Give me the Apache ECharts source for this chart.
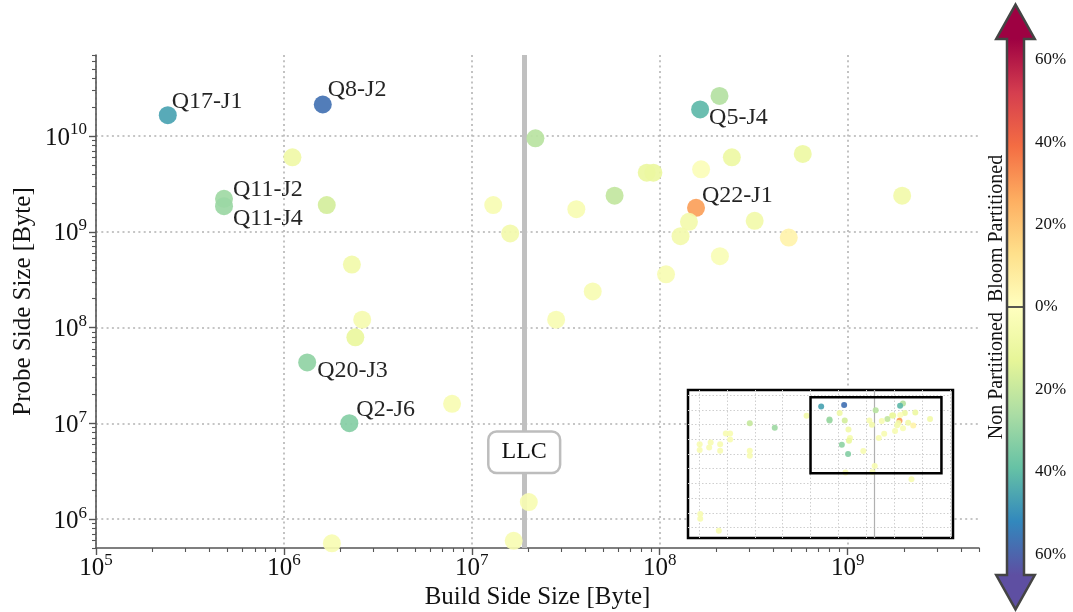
<!DOCTYPE html>
<html><head><meta charset="utf-8">
<script src="https://cdn.jsdelivr.net/npm/echarts@6/dist/echarts.min.js"></script>
<style>html,body{margin:0;padding:0;background:#fff}#chart{width:1073px;height:612px}</style>
</head><body><div id="chart"></div>
<script>
// ---------------- DATA ----------------
const buildSize = [
  2.41e5, 1.61e6, 1.11e6, 4.80e5, 4.80e5, 1.69e6, 1.30e7, 1.60e7, 2.30e6, 2.61e6,
  2.40e6, 1.33e6, 2.23e6, 7.85e6, 1.80e6, 1.67e7, 2.08e8, 1.64e8, 2.18e7, 2.42e8,
  5.77e8, 1.66e8, 8.53e7, 9.25e7, 5.75e7, 3.60e7, 1.56e8, 1.43e8, 3.20e8, 1.95e9,
  1.29e8, 4.86e8, 2.09e8, 1.08e8, 4.40e7, 2.81e7, 2.01e7,
  10.5, 10.5, 23, 26, 57, 57, 91, 130, 130, 660, 660, 660, 5.2e3, 7.2e4, 11, 11, 51, 4.2e8
];
const probeSize = [
  1.65e10, 2.13e10, 5.98e9, 2.21e9, 1.85e9, 1.90e9, 1.90e9, 9.6e8, 4.55e8, 1.21e8,
  7.9e7, 4.32e7, 1.005e7, 1.60e7, 5.6e5, 5.94e5, 2.62e10, 1.89e10, 9.46e9, 5.98e9,
  6.49e9, 4.49e9, 4.14e9, 4.14e9, 2.38e9, 1.72e9, 1.78e9, 1.27e9, 1.30e9, 2.38e9,
  9.0e8, 8.7e8, 5.56e8, 3.60e8, 2.38e8, 1.21e8, 1.51e6,
  4.6e7, 1.9e7, 2.8e7, 6.1e7, 4.6e7, 1.67e7, 2.5e8, 2.5e8, 9.8e7, 1.2e9, 1.67e7, 7.7e6, 6e8, 3.9e9, 850, 410, 63, 1.95e5
];
// signed improvement in % (positive = Bloom Partitioned better, negative = Non Partitioned better)
const improvementPct = [
  -46, -57, -8, -28, -29, -17, -4, -6, -7, -5,
  -11, -31, -33, -4, -4, -4, -24, -41, -23, -9,
  -9, -2, -10, -10, -21, -4, 29, -6, -7, -7,
  -6, 5, -3, -4, -4, -4, -4,
  -4, -4, -4, -4, -4, -4, -4, -4, -4, -20, -4, -4, -28, -7, -4, -4, -4, -4
];
const joinNames = [
  'Q17-J1', 'Q8-J2', '', 'Q11-J2', 'Q11-J4', '', '', '', '', '',
  '', 'Q20-J3', 'Q2-J6', '', '', '', '', 'Q5-J4', '', '',
  '', '', '', '', '', '', 'Q22-J1', '', '', '',
  '', '', '', '', '', '', '',
  '', '', '', '', '', '', '', '', '', '', '', '', '', '', '', '', '', ''
];
const xTickValues = [1e5, 1e6, 1e7, 1e8, 1e9];
const yTickValues = [1e6, 1e7, 1e8, 1e9, 1e10];
const insetXTickValues = [1e1, 1e2, 1e3, 1e4, 1e5, 1e6, 1e7, 1e8, 1e9, 1e10];
const insetYTickValues = [1e2, 1e3, 1e4, 1e5, 1e6, 1e7, 1e8, 1e9, 1e10, 1e11];
const colorTickValues = [-60, -40, -20, 0, 20, 40, 60];
const mainXRange = [1e5, 5e9];
const mainYRange = [5e5, 7e10];
const insetXRange = [4, 1.3e10];
const insetYRange = [20, 2.2e11];
const llcSize = 1.9e7;
const llcLabelProbe = 5e6;
const llcText = 'LLC';
const colorRange = [-65, 65];
const colorbarTitles = ['Bloom Partitioned', 'Non Partitioned'];
const axisTitles = ['Build Side Size [Byte]', 'Probe Side Size [Byte]'];

// ---------------- STYLE ----------------
const FONT = 'Liberation Serif';
const spectral = ['#9e0142','#d53e4f','#f46d43','#fdae61','#fee08b','#ffffbf','#e6f598','#abdda4','#66c2a5','#3288bd','#5e4fa2'];
const spectralR = spectral.slice().reverse();
const labelOffsets = {
  'Q17-J1': [4, -13], 'Q8-J2': [5, -15], 'Q11-J2': [9, -9], 'Q11-J4': [9, 13],
  'Q20-J3': [10, 8], 'Q2-J6': [7, -13], 'Q5-J4': [9, 8], 'Q22-J1': [6, -12]
};
const MAIN_SYMBOL = 18;

function minorLogTicks(lo, hi) {
  const out = [];
  for (let e = Math.floor(Math.log10(lo)); e <= Math.ceil(Math.log10(hi)); e++) {
    for (let k = 2; k <= 9; k++) {
      const v = k * Math.pow(10, e);
      if (v >= lo && v <= hi) out.push(v);
    }
  }
  return out;
}
function pow10Label(v) {
  const e = Math.round(Math.log10(v));
  return '{b|10}{s|' + e + '}';
}
const labelRich = {
  b: { fontFamily: FONT, fontSize: 25, color: '#111', verticalAlign: 'bottom' },
  s: { fontFamily: FONT, fontSize: 17, color: '#111', verticalAlign: 'bottom', padding: [0, 0, 12, 0] }
};
const axisColor = '#555';
const gridLine = { show: true, lineStyle: { color: '#b3b3b3', width: 1.6, type: [2, 3.3] } };

const points = buildSize.map((b, i) => [b, probeSize[i], improvementPct[i], joinNames[i]]);

const mainData = points.map(p => {
  const item = { value: [p[0], p[1], p[2]], name: p[3] };
  if (p[3]) {
    const o = labelOffsets[p[3]] || [6, -12];
    item.label = { show: true, position: [MAIN_SYMBOL / 2 + o[0], MAIN_SYMBOL / 2 + o[1]] };
  }
  return item;
});
const insetData = points.map(p => [p[0], p[1], p[2]]);

function logAxis(opts) {
  return Object.assign({
    type: 'log', logBase: 10,
    axisLine: { show: false },
    axisTick: { show: false },
    axisLabel: { show: false },
    splitLine: { show: false },
    minorTick: { show: false }, minorSplitLine: { show: false }
  }, opts);
}

const option = {
  animation: false,
  backgroundColor: '#fff',
  grid: [
    { left: 96, top: 55, width: 883, height: 493, containLabel: false, outerBoundsMode: 'none' },
    { left: 688, top: 390, width: 265, height: 148, show: true, backgroundColor: '#fff',
      borderColor: '#000', borderWidth: 2.5, z: 3, containLabel: false, outerBoundsMode: 'none' },
    { left: 1007, top: 39, width: 17, height: 536, containLabel: false, outerBoundsMode: 'none' }
  ],
  xAxis: [
    logAxis({
      gridIndex: 0, min: mainXRange[0], max: mainXRange[1], position: 'bottom',
      axisLine: { show: true, onZero: false, lineStyle: { color: axisColor, width: 1.6 } },
      axisTick: { show: true, length: 7, customValues: xTickValues, lineStyle: { color: axisColor, width: 1.4 } },
      axisLabel: { show: true, customValues: xTickValues, formatter: pow10Label, rich: labelRich, margin: 4 },
      splitLine: gridLine,
      name: axisTitles[0], nameLocation: 'middle', nameGap: 37, nameMoveOverlap: false,
      nameTextStyle: { fontFamily: FONT, fontSize: 25, color: '#111' }
    }),
    logAxis({
      gridIndex: 0, min: mainXRange[0], max: mainXRange[1], position: 'bottom', offset: 0,
      axisTick: { show: true, length: 4, customValues: minorLogTicks(mainXRange[0], mainXRange[1]),
        lineStyle: { color: axisColor, width: 1.1 } }
    }),
    logAxis({
      gridIndex: 1, min: insetXRange[0], max: insetXRange[1], z: 4,
      axisTick: { show: false, customValues: insetXTickValues },
      splitLine: { show: true, lineStyle: { color: '#cfcfcf', width: 1, type: [1.5, 2] } }
    }),
    { type: 'value', gridIndex: 2, min: 0, max: 1, show: false }
  ],
  yAxis: [
    logAxis({
      gridIndex: 0, min: mainYRange[0], max: mainYRange[1], position: 'left',
      axisLine: { show: true, onZero: false, lineStyle: { color: axisColor, width: 1.6 } },
      axisTick: { show: true, length: 7, customValues: yTickValues, lineStyle: { color: axisColor, width: 1.4 } },
      axisLabel: { show: true, customValues: yTickValues, formatter: pow10Label, rich: labelRich, margin: 9 },
      splitLine: gridLine,
      name: axisTitles[1], nameLocation: 'middle', nameGap: 60, nameMoveOverlap: false,
      nameTextStyle: { fontFamily: FONT, fontSize: 25, color: '#111' }
    }),
    logAxis({
      gridIndex: 0, min: mainYRange[0], max: mainYRange[1], position: 'left', offset: 0,
      axisTick: { show: true, length: 4, customValues: minorLogTicks(mainYRange[0], mainYRange[1]),
        lineStyle: { color: axisColor, width: 1.1 } }
    }),
    logAxis({
      gridIndex: 1, min: insetYRange[0], max: insetYRange[1], z: 4,
      axisTick: { show: false, customValues: insetYTickValues },
      splitLine: { show: true, lineStyle: { color: '#cfcfcf', width: 1, type: [1.5, 2] } }
    }),
    {
      type: 'value', gridIndex: 2, min: colorRange[0], max: colorRange[1], position: 'right',
      axisLine: { show: false }, splitLine: { show: false },
      axisTick: { show: true, length: 5, customValues: colorTickValues, lineStyle: { color: '#444', width: 1.4 } },
      axisLabel: { show: true, customValues: colorTickValues, margin: 11,
        formatter: v => Math.abs(v) + '%', fontFamily: FONT, fontSize: 17, color: '#111' }
    }
  ],
  visualMap: [{
    type: 'continuous', show: false, min: colorRange[0], max: colorRange[1], dimension: 2,
    seriesIndex: [1, 3], inRange: { color: spectralR }
  }],
  series: [
    {
      type: 'scatter', xAxisIndex: 0, yAxisIndex: 0, z: 1, data: [], silent: true,
      markLine: {
        z: 1, silent: true, symbol: ['none', 'none'], label: { show: false }, animation: false,
        lineStyle: { color: '#c0c0c0', width: 5, type: 'solid' },
        data: [{ xAxis: llcSize }]
      }
    },
    {
      type: 'scatter', xAxisIndex: 0, yAxisIndex: 0, z: 3, symbolSize: MAIN_SYMBOL,
      itemStyle: { opacity: 0.92 },
      label: { show: false, formatter: '{b}', fontFamily: FONT, fontSize: 24, color: '#111',
        align: 'left', verticalAlign: 'middle' },
      emphasis: { disabled: true },
      data: mainData
    },
    {
      type: 'custom', xAxisIndex: 0, yAxisIndex: 0, z: 4, silent: true,
      data: [[llcSize, llcLabelProbe]],
      renderItem: function (params, api) {
        const p = api.coord([api.value(0), api.value(1)]);
        return {
          type: 'text', x: p[0], y: p[1],
          style: { text: llcText, align: 'center', verticalAlign: 'middle', fontFamily: FONT,
            fontSize: 24, fill: '#111', backgroundColor: '#fff', borderColor: '#bdbdbd',
            borderWidth: 2.5, borderRadius: 7, padding: [8, 12, 7, 12] }
        };
      }
    },
    {
      type: 'scatter', xAxisIndex: 2, yAxisIndex: 2, z: 6, symbolSize: 6, silent: true,
      itemStyle: { opacity: 0.92 },
      data: insetData,
      markLine: {
        z: 5, silent: true, symbol: ['none', 'none'], label: { show: false },
        lineStyle: { color: '#b0b0b0', width: 1.2, type: 'solid' },
        data: [{ xAxis: llcSize }]
      }
    },
    {
      type: 'custom', xAxisIndex: 2, yAxisIndex: 2, z: 7, silent: true,
      data: [[mainXRange[0], mainYRange[0], mainXRange[1], mainYRange[1]]],
      renderItem: function (params, api) {
        const a = api.coord([api.value(0), api.value(3)]);
        const b = api.coord([api.value(2), api.value(1)]);
        return {
          type: 'rect', shape: { x: a[0], y: a[1], width: b[0] - a[0], height: b[1] - a[1] },
          style: { fill: null, stroke: '#000', lineWidth: 2.5 }
        };
      }
    },
    {
      type: 'custom', xAxisIndex: 3, yAxisIndex: 3, z: 5, silent: true,
      data: [[0, 0]],
      renderItem: function (params, api) {
        const tl = api.coord([0, colorRange[1]]);
        const br = api.coord([1, colorRange[0]]);
        const zero = api.coord([0, 0]);
        const x0 = tl[0], x1 = br[0], yT = tl[1], yB = br[1];
        const cx = (x0 + x1) / 2, hh = 19.3, hl = 34.4;
        const stops = spectral.map((c, i) => ({ offset: i / (spectral.length - 1), color: c }));
        const outline = [[x0, yT], [cx - hh, yT], [cx, yT - hl], [cx + hh, yT], [x1, yT],
          [x1, yB], [cx + hh, yB], [cx, yB + hl], [cx - hh, yB], [x0, yB]];
        return {
          type: 'group',
          children: [
            { type: 'rect', shape: { x: x0, y: yT, width: x1 - x0, height: yB - yT },
              style: { fill: new echarts.graphic.LinearGradient(0, 0, 0, 1, stops) } },
            { type: 'polygon', shape: { points: [[cx - hh, yT], [cx, yT - hl], [cx + hh, yT]] },
              style: { fill: spectral[0] } },
            { type: 'polygon', shape: { points: [[cx - hh, yB], [cx, yB + hl], [cx + hh, yB]] },
              style: { fill: spectral[spectral.length - 1] } },
            { type: 'line', shape: { x1: x0, y1: zero[1], x2: x1, y2: zero[1] },
              style: { stroke: '#444', lineWidth: 1.8 } },
            { type: 'polygon', shape: { points: outline },
              style: { fill: null, stroke: '#444', lineWidth: 2.5, lineJoin: 'miter' } },
            { type: 'text', x: x0 - 10, y: zero[1] - 5, rotation: Math.PI / 2,
              style: { text: colorbarTitles[0], fontFamily: FONT, fontSize: 20, fill: '#111',
                align: 'left', verticalAlign: 'middle' } },
            { type: 'text', x: x0 - 10, y: zero[1] + 5, rotation: Math.PI / 2,
              style: { text: colorbarTitles[1], fontFamily: FONT, fontSize: 20, fill: '#111',
                align: 'right', verticalAlign: 'middle' } }
          ]
        };
      }
    }
  ]
};

const chart = echarts.init(document.getElementById('chart'), null, { renderer: 'canvas', width: 1073, height: 612 });
chart.setOption(option);
</script>
</body></html>
